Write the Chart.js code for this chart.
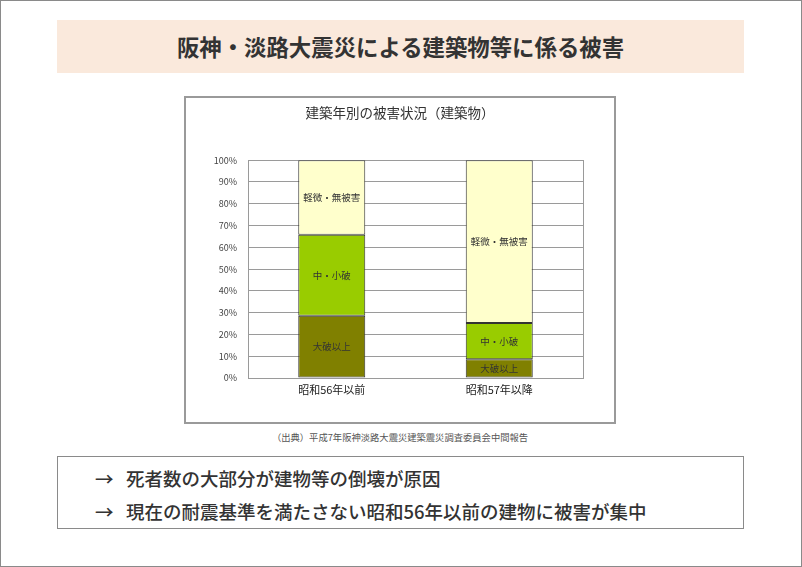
<!DOCTYPE html>
<html><head><meta charset="utf-8">
<script src="https://cdn.jsdelivr.net/npm/chart.js@4/dist/chart.umd.min.js"></script>
<style>
html,body{margin:0;padding:0;background:#fff;}
body{width:802px;height:567px;position:relative;overflow:hidden;font-family:"Noto Sans CJK JP",sans-serif;}
#frame{position:absolute;left:0;top:0;width:800px;height:565px;border:1px solid #8a8a8a;}
#banner{position:absolute;left:57px;top:20px;width:687px;height:53px;background:#FAE9DC;text-align:center;line-height:53px;font-size:22.4px;font-weight:bold;color:#333;}
#chartbox{position:absolute;left:184px;top:96px;width:428px;height:324px;border:2px solid #9a9a9a;}
#cv{position:absolute;left:0;top:0;}
#source{position:absolute;left:184px;width:432px;top:430px;text-align:center;font-size:9.3px;color:#555;}
#notes{position:absolute;left:57px;top:456px;width:685px;height:71px;border:1px solid #8a8a8a;font-size:18.5px;color:#333;font-weight:500;}
.ln{position:absolute;left:37px;white-space:nowrap;line-height:26px;}
.ln span{display:inline-block;width:31px;}
</style></head><body>
<div id="frame"></div>
<div id="banner">阪神・淡路大震災による建築物等に係る被害</div>
<div id="chartbox"><canvas id="cv" width="428" height="324"></canvas></div>
<div id="source">（出典）平成7年阪神淡路大震災建築震災調査委員会中間報告</div>
<div id="notes">
<div class="ln" style="top:8px;"><span>→</span>死者数の大部分が建物等の倒壊が原因</div>
<div class="ln" style="top:41px;"><span>→</span>現在の耐震基準を満たさない昭和56年以前の建物に被害が集中</div>
</div>
<script>
const categories = ["昭和56年以前", "昭和57年以降"];
const seriesNames = ["大破以上", "中・小破", "軽微・無被害"];
const severe = [28.6, 8.6];
const moderate = [37.2, 16.7];
const minor = [34.2, 74.7];
const yTicks = [0,10,20,30,40,50,60,70,80,90,100];
const chartTitle = "建築年別の被害状況（建築物）";

const FONT = '"Noto Sans CJK JP", sans-serif';

const segLabels = {
  id: 'segLabels',
  afterDatasetsDraw(chart) {
    const ctx = chart.ctx;
    ctx.save();
    ctx.font = '9.5px ' + FONT;
    ctx.fillStyle = '#333';
    ctx.textAlign = 'center';
    ctx.textBaseline = 'middle';
    chart.data.datasets.forEach((ds, di) => {
      chart.getDatasetMeta(di).data.forEach((el) => {
        const p = el.getProps(['x','y','base'], true);
        ctx.fillText(ds.label, p.x, (p.y + p.base) / 2);
      });
    });
    ctx.restore();
  }
};
const plotBorder = {
  id: 'plotBorder',
  beforeDatasetsDraw(chart) {
    const a = chart.chartArea, ctx = chart.ctx;
    ctx.save();
    ctx.strokeStyle = '#9a9a9a';
    ctx.lineWidth = 1;
    ctx.strokeRect(Math.round(a.left)+0.5, Math.round(a.top)+0.5, Math.round(a.right-a.left), Math.round(a.bottom-a.top));
    ctx.restore();
  }
};

new Chart(document.getElementById('cv'), {
  type: 'bar',
  data: {
    labels: categories,
    datasets: [
      {label: seriesNames[0], data: severe, backgroundColor: '#808000'},
      {label: seriesNames[1], data: moderate, backgroundColor: '#99CC00'},
      {label: seriesNames[2], data: minor, backgroundColor: '#FFFFCC'}
    ].map(d => Object.assign(d, {borderColor: '#333', borderWidth: 1, borderSkipped: false, categoryPercentage: 1, barPercentage: 0.4}))
  },
  options: {
    responsive: false,
    animation: false,
    devicePixelRatio: 1,
    layout: {padding: 0},
    plugins: {
      legend: {display: false},
      tooltip: {enabled: false},
      title: {display: true, text: chartTitle, color: '#333', font: {family: FONT, size: 13.5, weight: 'normal'}, padding: {top: 7, bottom: 39}}
    },
    scales: {
      x: {
        stacked: true,
        grid: {display: false, drawTicks: false},
        border: {display: false},
        ticks: {color: '#222', font: {family: FONT, size: 11}, padding: 5},
        afterFit(s) { s.height = 44; }
      },
      y: {
        stacked: true, min: 0, max: 100,
        afterBuildTicks(s) { s.ticks = yTicks.map(v => ({value: v})); },
        grid: {color: '#9a9a9a', lineWidth: 1, drawTicks: false},
        border: {display: false},
        ticks: {color: '#444', font: {family: FONT, size: 9}, padding: 11, callback: v => v + '%'},
        afterFit(s) { s.width = 62; }
      },
      yRight: {
        type: 'linear', position: 'right', display: true,
        grid: {display: false, drawTicks: false},
        border: {display: false},
        ticks: {display: false},
        afterFit(s) { s.width = 31; }
      }
    }
  },
  plugins: [plotBorder, segLabels]
});
</script>
</body></html>
